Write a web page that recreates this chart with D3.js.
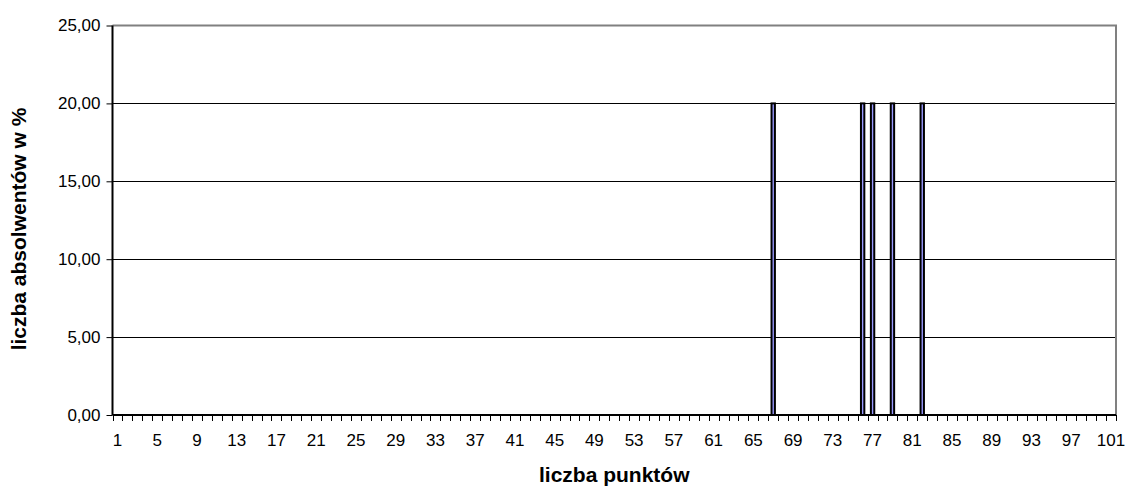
<!DOCTYPE html>
<html>
<head>
<meta charset="utf-8">
<script src="https://cdn.jsdelivr.net/npm/d3@7"></script>
<style>
  body { margin: 0; background: #fff; }
  text { font-family: "Liberation Sans", Arial, sans-serif; }
</style>
</head>
<body>
<div id="chart"></div>
<script>
const categories = [
  "1","2","3","4","5","6","7","8","9","10","11","12","13","14","15","16","17","18","19","20",
  "21","22","23","24","25","26","27","28","29","30","31","32","33","34","35","36","37","38","39","40",
  "41","42","43","44","45","46","47","48","49","50","51","52","53","54","55","56","57","58","59","60",
  "61","62","63","64","65","66","67","68","69","70","71","72","73","74","75","76","77","78","79","80",
  "81","82","83","84","85","86","87","88","89","90","91","92","93","94","95","96","97","98","99","100","101"
];

const values = [
  0,0,0,0,0,0,0,0,0,0, 0,0,0,0,0,0,0,0,0,0,
  0,0,0,0,0,0,0,0,0,0, 0,0,0,0,0,0,0,0,0,0,
  0,0,0,0,0,0,0,0,0,0, 0,0,0,0,0,0,0,0,0,0,
  0,0,0,0,0,0,20,0,0,0, 0,0,0,0,0,20,20,0,20,0,
  0,20,0,0,0,0,0,0,0,0, 0,0,0,0,0,0,0,0,0,0, 0
];

const xTickLabels = ["1","5","9","13","17","21","25","29","33","37","41","45","49","53","57","61","65","69","73","77","81","85","89","93","97","101"];
const yTicks = [0, 5, 10, 15, 20, 25];

const width = 1126;
const height = 488;
const plotL = 112.5, plotR = 1116, plotT = 25.5, plotB = 415;

const svg = d3.select("#chart")
  .append("svg")
  .attr("width", width)
  .attr("height", height);

const x = d3.scaleBand()
  .domain(categories)
  .range([plotL, plotR])
  .padding(0);

const y = d3.scaleLinear()
  .domain([0, 25])
  .range([plotB, plotT]);

const fmt = v => d3.format(".2f")(v).replace(".", ",");

// grid lines
svg.append("g")
  .selectAll("line")
  .data(yTicks.filter(d => d > 0 && d < 25))
  .enter()
  .append("line")
  .attr("x1", plotL)
  .attr("x2", plotR)
  .attr("y1", d => Math.round(y(d)) + 0.5)
  .attr("y2", d => Math.round(y(d)) + 0.5)
  .attr("stroke", "#000")
  .attr("stroke-width", 1);

// plot border (top and right)
svg.append("path")
  .attr("d", `M${plotL},${plotT}H${plotR}V${plotB}`)
  .attr("fill", "none")
  .attr("stroke", "#808080")
  .attr("stroke-width", 2);

// bars
const bw = x.bandwidth();
svg.append("g")
  .selectAll("rect")
  .data(categories.map((c, i) => ({ c, v: values[i] })).filter(d => d.v > 0))
  .enter()
  .append("rect")
  .attr("x", d => x(d.c) + bw * 0.33)
  .attr("width", bw * 0.34)
  .attr("y", d => y(d.v))
  .attr("height", d => y(0) - y(d.v))
  .attr("fill", "#9999ff")
  .attr("stroke", "#000")
  .attr("stroke-width", 2);

// y axis
const yAxis = svg.append("g")
  .attr("transform", `translate(${plotL},0)`)
  .call(d3.axisLeft(y).tickValues(yTicks).tickSize(6).tickPadding(6).tickFormat(fmt));
yAxis.select(".domain").attr("stroke", "#000").attr("stroke-width", 2).attr("d", `M0,${plotT}V${plotB}`);
yAxis.selectAll(".tick line").attr("stroke", "#000");
yAxis.selectAll(".tick text")
  .attr("fill", "#000")
  .style("font-size", "17px")
  .style("font-family", "Liberation Sans, Arial, sans-serif");

// x axis line and ticks at category boundaries
const xAxis = svg.append("g");
xAxis.append("line")
  .attr("x1", plotL)
  .attr("x2", plotR)
  .attr("y1", plotB)
  .attr("y2", plotB)
  .attr("stroke", "#000")
  .attr("stroke-width", 2);

xAxis.selectAll("line.tk")
  .data(categories.concat(["end"]))
  .enter()
  .append("line")
  .attr("class", "tk")
  .attr("x1", (d, i) => Math.round(plotL + i * x.step()) + 0.5)
  .attr("x2", (d, i) => Math.round(plotL + i * x.step()) + 0.5)
  .attr("y1", plotB)
  .attr("y2", plotB + 6)
  .attr("stroke", "#000");

xAxis.selectAll("text")
  .data(xTickLabels)
  .enter()
  .append("text")
  .attr("x", d => x(d) + bw / 2)
  .attr("y", plotB + 31)
  .attr("text-anchor", "middle")
  .style("font-size", "17px")
  .text(d => d);

// titles
svg.append("text")
  .attr("x", (plotL + plotR) / 2)
  .attr("y", 482)
  .attr("text-anchor", "middle")
  .style("font-size", "21px")
  .style("font-weight", "bold")
  .text("liczba punktów");

svg.append("text")
  .attr("transform", "translate(26,229) rotate(-90)")
  .attr("text-anchor", "middle")
  .style("font-size", "21px")
  .style("font-weight", "bold")
  .text("liczba absolwentów w %");
</script>
</body>
</html>
